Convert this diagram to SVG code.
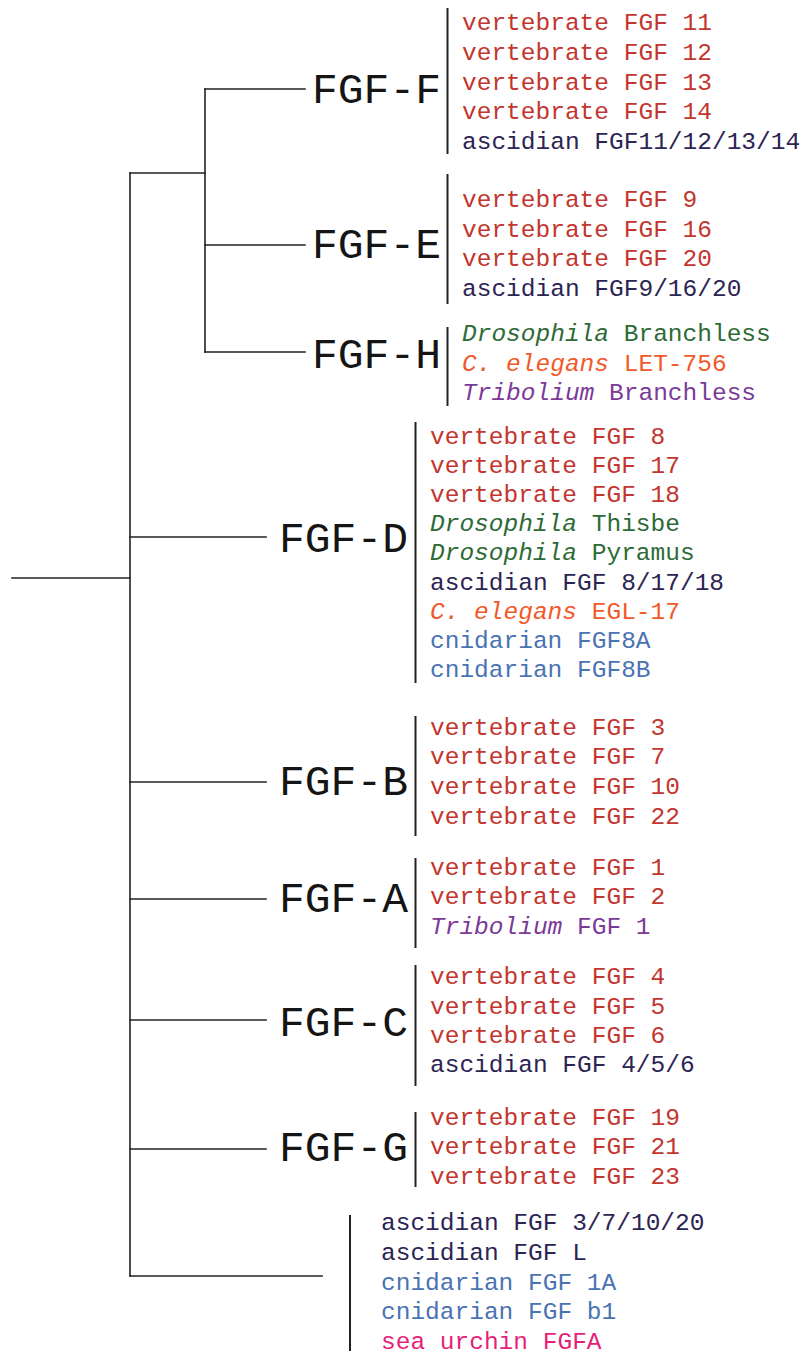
<svg xmlns="http://www.w3.org/2000/svg" width="807" height="1353" viewBox="0 0 807 1353">
  <style>
    .tree { fill: none; stroke: #222; stroke-width: 1.6; stroke-linecap: square; }
    .bar { stroke: #222; stroke-width: 2; }
    .clade { font-family: "Liberation Mono", "Courier New", monospace; font-size: 43px; fill: #151515; }
    .item { font-family: "Liberation Mono", "Courier New", monospace; font-size: 24.5px; }
    .vert { fill: #c2362f; }
    .asc { fill: #2c2453; }
    .dros { fill: #2d6a36; }
    .cel { fill: #f0592a; }
    .trib { fill: #7b3a98; }
    .cnid { fill: #4a73b3; }
    .urch { fill: #e61f79; }
    i { font-style: italic; }
    .it { font-style: italic; }
  </style>

  <!-- tree connectors -->
  <g id="connectors" class="tree">
    <path d="M12 578 H130"/>
    <path d="M130 173 V1276"/>
    <path d="M130 173 H205"/>
    <path d="M205 89 V352"/>
    <path d="M205 89 H305"/>
    <path d="M205 245 H305"/>
    <path d="M205 352 H305"/>
    <path d="M130 537 H266"/>
    <path d="M130 782 H266"/>
    <path d="M130 899 H266"/>
    <path d="M130 1020 H266"/>
    <path d="M130 1149 H266"/>
    <path d="M130 1276 H322"/>
  </g>

  <g id="fgf-f">
    <text class="clade" x="312" y="103">FGF-F</text>
    <line class="bar" x1="447.5" y1="8" x2="447.5" y2="154"/>
    <g class="item">
      <text class="vert" x="462" y="30">vertebrate FGF 11</text>
      <text class="vert" x="462" y="60">vertebrate FGF 12</text>
      <text class="vert" x="462" y="90">vertebrate FGF 13</text>
      <text class="vert" x="462" y="119">vertebrate FGF 14</text>
      <text class="asc" x="462" y="148.5">ascidian FGF11/12/13/14</text>
    </g>
  </g>

  <g id="fgf-e">
    <text class="clade" x="312" y="258">FGF-E</text>
    <line class="bar" x1="447.5" y1="174" x2="447.5" y2="304"/>
    <g class="item">
      <text class="vert" x="462" y="207">vertebrate FGF 9</text>
      <text class="vert" x="462" y="236.5">vertebrate FGF 16</text>
      <text class="vert" x="462" y="266">vertebrate FGF 20</text>
      <text class="asc" x="462" y="295.5">ascidian FGF9/16/20</text>
    </g>
  </g>

  <g id="fgf-h">
    <text class="clade" x="312" y="368">FGF-H</text>
    <line class="bar" x1="447.5" y1="327" x2="447.5" y2="406"/>
    <g class="item">
      <text class="dros" x="462" y="341"><tspan class="it">Drosophila</tspan> Branchless</text>
      <text class="cel" x="462" y="370.5"><tspan class="it">C. elegans</tspan> LET-756</text>
      <text class="trib" x="462" y="400"><tspan class="it">Tribolium</tspan> Branchless</text>
    </g>
  </g>

  <g id="fgf-d">
    <text class="clade" x="279" y="551.5">FGF-D</text>
    <line class="bar" x1="415.5" y1="422" x2="415.5" y2="683"/>
    <g class="item">
      <text class="vert" x="430" y="443.5">vertebrate FGF 8</text>
      <text class="vert" x="430" y="472.5">vertebrate FGF 17</text>
      <text class="vert" x="430" y="502">vertebrate FGF 18</text>
      <text class="dros" x="430" y="531"><tspan class="it">Drosophila</tspan> Thisbe</text>
      <text class="dros" x="430" y="560"><tspan class="it">Drosophila</tspan> Pyramus</text>
      <text class="asc" x="430" y="589.5">ascidian FGF 8/17/18</text>
      <text class="cel" x="430" y="618.5"><tspan class="it">C. elegans</tspan> EGL-17</text>
      <text class="cnid" x="430" y="647.5">cnidarian FGF8A</text>
      <text class="cnid" x="430" y="677">cnidarian FGF8B</text>
    </g>
  </g>

  <g id="fgf-b">
    <text class="clade" x="279" y="795">FGF-B</text>
    <line class="bar" x1="415.5" y1="716" x2="415.5" y2="836"/>
    <g class="item">
      <text class="vert" x="430" y="734.5">vertebrate FGF 3</text>
      <text class="vert" x="430" y="764">vertebrate FGF 7</text>
      <text class="vert" x="430" y="794">vertebrate FGF 10</text>
      <text class="vert" x="430" y="823.5">vertebrate FGF 22</text>
    </g>
  </g>

  <g id="fgf-a">
    <text class="clade" x="279" y="912">FGF-A</text>
    <line class="bar" x1="415.5" y1="858" x2="415.5" y2="948"/>
    <g class="item">
      <text class="vert" x="430" y="874.5">vertebrate FGF 1</text>
      <text class="vert" x="430" y="904">vertebrate FGF 2</text>
      <text class="trib" x="430" y="934"><tspan class="it">Tribolium</tspan> FGF 1</text>
    </g>
  </g>

  <g id="fgf-c">
    <text class="clade" x="279" y="1036">FGF-C</text>
    <line class="bar" x1="415.5" y1="965" x2="415.5" y2="1086"/>
    <g class="item">
      <text class="vert" x="430" y="984">vertebrate FGF 4</text>
      <text class="vert" x="430" y="1013.5">vertebrate FGF 5</text>
      <text class="vert" x="430" y="1043">vertebrate FGF 6</text>
      <text class="asc" x="430" y="1072">ascidian FGF 4/5/6</text>
    </g>
  </g>

  <g id="fgf-g">
    <text class="clade" x="279" y="1161">FGF-G</text>
    <line class="bar" x1="415.5" y1="1112" x2="415.5" y2="1187"/>
    <g class="item">
      <text class="vert" x="430" y="1125">vertebrate FGF 19</text>
      <text class="vert" x="430" y="1154">vertebrate FGF 21</text>
      <text class="vert" x="430" y="1183.5">vertebrate FGF 23</text>
    </g>
  </g>

  <g id="basal">
    <line class="bar" x1="350" y1="1215" x2="350" y2="1351"/>
    <g class="item">
      <text class="asc" x="381" y="1230">ascidian FGF 3/7/10/20</text>
      <text class="asc" x="381" y="1260">ascidian FGF L</text>
      <text class="cnid" x="381" y="1289.5">cnidarian FGF 1A</text>
      <text class="cnid" x="381" y="1319">cnidarian FGF b1</text>
      <text class="urch" x="381" y="1348.5">sea urchin FGFA</text>
    </g>
  </g>
</svg>
